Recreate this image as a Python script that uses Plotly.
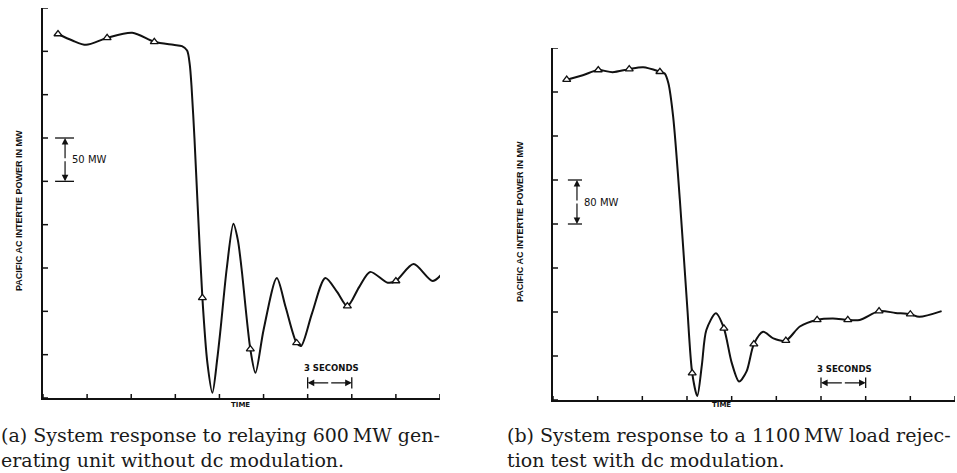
import plotly.graph_objects as go

# ---------------- data ----------------
# (a) without dc modulation: time in s, power in grid units (1 unit = 50 MW)
a_t = [1.02, 2.0, 2.93, 4.36, 6.07, 7.57, 8.86, 9.45, 9.8, 9.98, 10.1, 10.3, 10.5, 10.84,
       11.18, 11.52, 11.85, 12.07, 12.5, 12.95, 13.25, 13.5, 14.1, 14.45, 15.0, 15.9,
       16.5, 17.25, 17.55, 18.3, 19.2, 20.0, 20.7, 21.5, 22.25, 23.45, 24.0, 25.2, 26.5, 27.3]
a_v = [8.40, 8.25, 8.15, 8.31, 8.43, 8.22, 8.15, 8.12, 8.02, 7.7, 7.2, 6.0, 4.57, 2.31,
       0.81, 0.12, 0.9, 1.57, 3.0, 4.02, 3.65, 3.0, 1.13, 0.58, 1.57, 2.77,
       2.1, 1.27, 1.2, 1.96, 2.77, 2.45, 2.12, 2.56, 2.91, 2.66, 2.70, 3.09, 2.70, 2.93]
a_mark_t = [1.02, 4.36, 7.57, 10.84, 14.1, 17.25, 20.7, 24.0, 27.3]
a_mark_v = [8.40, 8.31, 8.22, 2.31, 1.13, 1.27, 2.12, 2.70, 2.93]

# (b) with dc modulation: time in s, power in grid units (1 unit = 80 MW)
b_t = [0.92, 2.0, 3.04, 4.0, 5.12, 6.06, 7.18, 7.5, 7.75, 8.07, 8.52, 9.0, 9.35, 9.69,
       10.0, 10.3, 10.94, 11.48, 12.0, 12.5, 13.0, 13.49, 14.11, 14.8, 15.64, 16.58,
       17.74, 18.8, 19.8, 20.6, 21.9, 23.0, 24.0, 24.6, 26.1]
b_v = [7.28, 7.38, 7.50, 7.45, 7.52, 7.56, 7.46, 7.42, 7.2, 6.44, 4.55, 2.2, 0.61, 0.09,
       0.8, 1.59, 1.97, 1.63, 0.85, 0.42, 0.65, 1.27, 1.55, 1.4, 1.35, 1.67,
       1.82, 1.85, 1.82, 1.82, 2.02, 1.98, 1.95, 1.89, 2.02]
b_mark_t = [0.92, 3.04, 5.12, 7.18, 9.35, 11.48, 13.49, 15.64, 17.74, 19.8, 21.9, 24.0]
b_mark_v = [7.28, 7.50, 7.52, 7.46, 0.61, 1.63, 1.27, 1.35, 1.82, 1.82, 2.02, 1.95]

x_ticks = [0, 3, 6, 9, 12, 15, 18, 21, 24, 27]
a_y_ticks = [0, 1, 2, 3, 4, 5, 6, 7, 8, 9]
b_y_ticks = [0, 1, 2, 3, 4, 5, 6, 7, 8]

y_label = "PACIFIC AC INTERTIE POWER IN MW"
captions_a = ["(a) System response to relaying 600\u2009MW gen-",
              "erating unit without dc modulation."]
captions_b = ["(b) System response to a 1100\u2009MW load rejec-",
              "tion test with dc modulation."]

# ---------------- figure ----------------
W, H = 957, 473
INK = "#111111"
fig = go.Figure()

def px_x(p):
    return p / W

def px_y(p):
    return 1 - p / H

panels = [
    dict(xa="x", ya="y", t=a_t, v=a_v, mt=a_mark_t, mv=a_mark_v),
    dict(xa="x2", ya="y2", t=b_t, v=b_v, mt=b_mark_t, mv=b_mark_v),
]
for p in panels:
    fig.add_trace(go.Scatter(x=p["t"], y=p["v"], mode="lines", xaxis=p["xa"], yaxis=p["ya"],
                             line=dict(color=INK, width=2, shape="spline", smoothing=0.8),
                             cliponaxis=False, hoverinfo="skip", showlegend=False))
    fig.add_trace(go.Scatter(x=p["mt"], y=p["mv"], mode="markers", xaxis=p["xa"], yaxis=p["ya"],
                             marker=dict(symbol="triangle-up", size=7, color="white",
                                         line=dict(color=INK, width=1.3)),
                             cliponaxis=False, hoverinfo="skip", showlegend=False))

axis_common = dict(showgrid=False, zeroline=False, showticklabels=False, ticks="",
                   showline=True, linecolor=INK, linewidth=1.5, fixedrange=True)
fig.update_layout(
    width=W, height=H, margin=dict(l=0, r=0, t=0, b=0),
    paper_bgcolor="white", plot_bgcolor="white",
    xaxis=dict(domain=[px_x(43), px_x(440)], range=[0, 27], anchor="y", **axis_common),
    yaxis=dict(domain=[px_y(398), px_y(8)], range=[0, 9], anchor="x", **axis_common),
    xaxis2=dict(domain=[px_x(553), px_x(955)], range=[0, 27], anchor="y2", **axis_common),
    yaxis2=dict(domain=[px_y(400), px_y(48)], range=[0, 8], anchor="x2", **axis_common),
)

shapes = []
def tick_shapes(xr, yr, xt, yt):
    for k in yt:
        shapes.append(dict(type="line", xref=xr, yref=yr, xsizemode="pixel", xanchor=0,
                           x0=-5, x1=5, y0=k, y1=k, line=dict(color=INK, width=1.5)))
    for k in xt:
        shapes.append(dict(type="line", xref=xr, yref=yr, ysizemode="pixel", yanchor=0,
                           y0=-4, y1=4, x0=k, x1=k, line=dict(color=INK, width=1.5)))

tick_shapes("x", "y", x_ticks, a_y_ticks)
tick_shapes("x2", "y2", x_ticks, b_y_ticks)

annotations = []
def bracket_v(xr, yr, xc, y0, y1, cap0, cap1, label, lx):
    for yy in (y0, y1):
        shapes.append(dict(type="line", xref=xr, yref=yr, x0=cap0, x1=cap1, y0=yy, y1=yy,
                           line=dict(color=INK, width=1.3)))
    ym = (y0 + y1) / 2
    for yy in (y0, y1):
        annotations.append(dict(xref=xr, yref=yr, axref=xr, ayref=yr, x=xc, y=yy, ax=xc, ay=ym,
                                text="", showarrow=True, arrowhead=2, arrowsize=1.1,
                                arrowwidth=1.2, arrowcolor=INK))
    annotations.append(dict(xref=xr, yref=yr, x=lx, y=ym, text=label, showarrow=False,
                            xanchor="left", font=dict(family="DejaVu Sans", size=10, color=INK)))

def bracket_h(xr, yr, x0, x1, yb, cap, label, ty):
    for xx in (x0, x1):
        shapes.append(dict(type="line", xref=xr, yref=yr, x0=xx, x1=xx, y0=yb - cap, y1=yb + cap,
                           line=dict(color=INK, width=1.3)))
    xm = (x0 + x1) / 2
    for xx in (x0, x1):
        annotations.append(dict(xref=xr, yref=yr, axref=xr, ayref=yr, x=xx, y=yb, ax=xm, ay=yb,
                                text="", showarrow=True, arrowhead=2, arrowsize=1.1,
                                arrowwidth=1.2, arrowcolor=INK))
    annotations.append(dict(xref=xr, yref=yr, x=xm + 0.1, y=ty, text=label, showarrow=False,
                            font=dict(family="DejaVu Sans", size=8.5, color=INK)))

bracket_v("x", "y", 1.5, 6, 5, 0.82, 2.11, "50 MW", 1.85)
bracket_v("x2", "y2", 1.61, 5, 4, 1.0, 1.95, "80 MW", 1.95)
bracket_h("x", "y", 18, 21, 0.35, 0.13, "<b>3 SECONDS</b>", 0.69)
bracket_h("x2", "y2", 18, 21, 0.39, 0.12, "<b>3 SECONDS</b>", 0.70)

# axis titles
for xc, yc in ((229, 411), (733, 411)):
    annotations.append(dict(xref="paper", yref="paper", x=px_x(xc), y=px_y(yc), text="<b>TIME</b>",
                            showarrow=False, font=dict(family="DejaVu Sans", size=7, color=INK)))
for xc, yc in ((12, 211), (520, 222)):
    annotations.append(dict(xref="paper", yref="paper", x=px_x(xc), y=px_y(yc), text="<b>" + y_label + "</b>",
                            textangle=-90, showarrow=False,
                            font=dict(family="Liberation Sans", size=9, color=INK)))

# captions
cap_font = dict(family="DejaVu Serif", size=19, color="#1a1a1a")
for (x0, lines) in ((-1, captions_a), (505, captions_b)):
    for i, line in enumerate(lines):
        annotations.append(dict(xref="paper", yref="paper", x=px_x(x0), y=px_y(435 + 25 * i),
                                xanchor="left", yanchor="middle", text=line, showarrow=False,
                                font=cap_font))

fig.update_layout(shapes=shapes, annotations=annotations)
fig.write_html("out.html")
